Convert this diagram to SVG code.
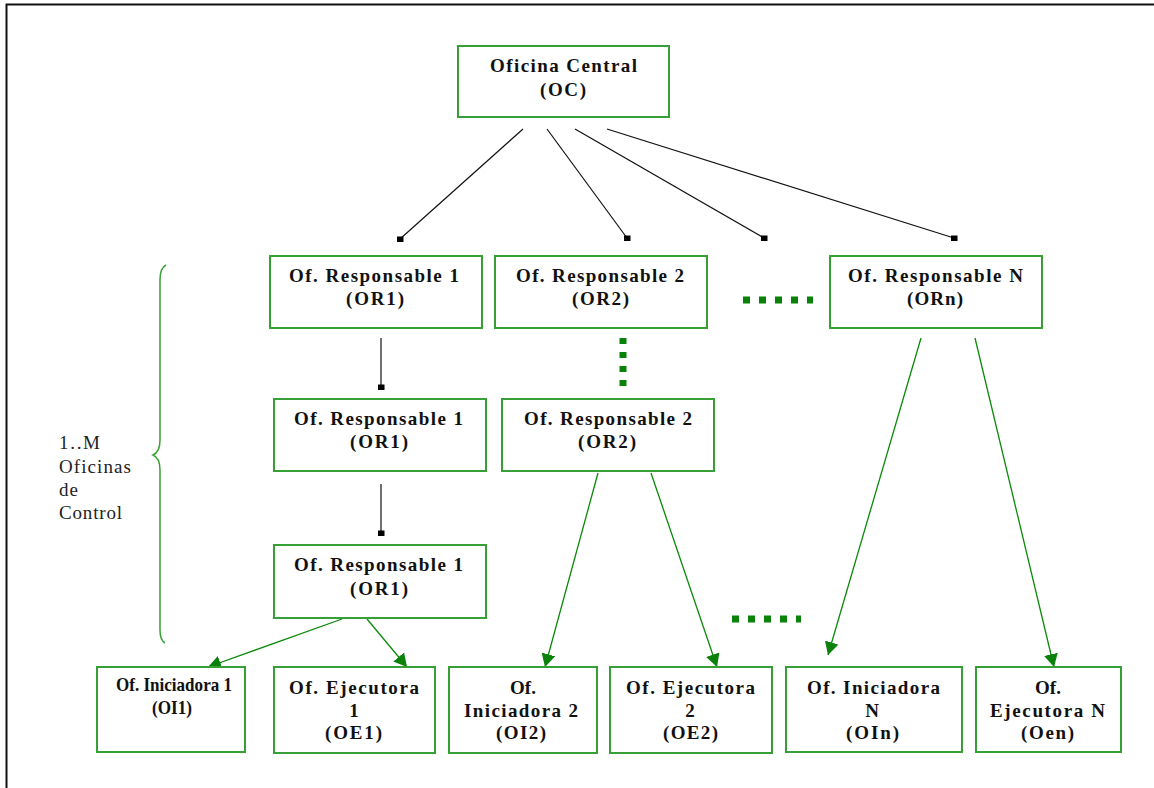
<svg xmlns="http://www.w3.org/2000/svg" width="1154" height="788" viewBox="0 0 1154 788">
<style>
.box{fill:#fff;stroke:#36a036;stroke-width:2}
.t{font-family:"Liberation Serif","Times New Roman",serif;font-size:19px;font-weight:bold;fill:#111}
.c{text-anchor:middle}
.lbl{font-family:"Liberation Serif","Times New Roman",serif;font-size:19px;fill:#222}
.blk{stroke:#111;stroke-width:1.2;fill:none}
.grn{stroke:#0a8a0a;stroke-width:1.3;fill:none}
.dot{stroke:#0a820a;stroke-width:7;stroke-dasharray:7 9;fill:none}
</style>
<defs>
<marker id="sq" markerUnits="userSpaceOnUse" markerWidth="7" markerHeight="6" refX="3.5" refY="3" orient="0">
<rect x="0" y="0.5" width="7" height="5.5" fill="#000"/>
</marker>
<marker id="ar" markerUnits="userSpaceOnUse" markerWidth="14" markerHeight="14" refX="13" refY="7" orient="auto">
<path d="M0,0 L13,7 L0,14 z" fill="#0a820a"/>
</marker>
</defs>
<rect x="0" y="0" width="1154" height="788" fill="#fff"/>
<g id="frame">
<path d="M6.5,788 V4.5 H1154" fill="none" stroke="#111" stroke-width="2"/>
</g>
<g id="connectors">
<line class="blk" x1="523" y1="129" x2="400" y2="239" marker-end="url(#sq)"/>
<line class="blk" x1="547" y1="129" x2="627" y2="238" marker-end="url(#sq)"/>
<line class="blk" x1="575" y1="129" x2="764" y2="238" marker-end="url(#sq)"/>
<line class="blk" x1="607" y1="129" x2="954" y2="238" marker-end="url(#sq)"/>
<line class="blk" x1="381" y1="338" x2="381" y2="387" marker-end="url(#sq)"/>
<line class="blk" x1="381" y1="484" x2="381" y2="533" marker-end="url(#sq)"/>
<line class="grn" x1="342" y1="619" x2="208" y2="667" marker-end="url(#ar)"/>
<line class="grn" x1="367" y1="619" x2="407" y2="667" marker-end="url(#ar)"/>
<line class="grn" x1="598" y1="473" x2="545" y2="667" marker-end="url(#ar)"/>
<line class="grn" x1="651" y1="473" x2="717" y2="667" marker-end="url(#ar)"/>
<line class="grn" x1="921" y1="338" x2="828" y2="655" marker-end="url(#ar)"/>
<line class="grn" x1="975" y1="338" x2="1054" y2="667" marker-end="url(#ar)"/>
<line class="dot" x1="623" y1="338" x2="623" y2="386" style="stroke-dasharray:6 8"/>
<line class="dot" x1="743" y1="300" x2="813" y2="300"/>
<line class="dot" x1="732" y1="619" x2="801" y2="619"/>
</g>
<g id="brace">
<path d="M166,265 Q160,268 160,280 V440 Q160,452 153,455 Q160,458 160,470 V630 Q160,640 165,643" fill="none" stroke="#36a036" stroke-width="1.5"/>
<text class="lbl" x="59" y="449" textLength="41">1..M</text>
<text class="lbl" x="59" y="473" textLength="72">Oficinas</text>
<text class="lbl" x="59" y="496" textLength="19">de</text>
<text class="lbl" x="59" y="519" textLength="63">Control</text>
</g>
<g id="OC">
<rect class="box" x="458" y="46" width="211" height="71"/>
<text class="t" x="490" y="72" textLength="147">Oficina Central</text>
<text class="t" x="540" y="96" textLength="46">(OC)</text>
</g>
<g id="OR1a">
<rect class="box" x="270" y="256" width="212" height="72"/>
<text class="t" x="289" y="282" textLength="170">Of. Responsable 1</text>
<text class="t" x="346" y="305" textLength="58">(OR1)</text>
</g>
<g id="OR2a">
<rect class="box" x="495" y="256" width="212" height="72"/>
<text class="t" x="516" y="282" textLength="168">Of. Responsable 2</text>
<text class="t" x="572" y="305" textLength="57">(OR2)</text>
</g>
<g id="ORn">
<rect class="box" x="830" y="256" width="212" height="72"/>
<text class="t" x="848" y="282" textLength="175">Of. Responsable N</text>
<text class="t" x="907" y="305" textLength="56">(ORn)</text>
</g>
<g id="OR1b">
<rect class="box" x="274" y="399" width="212" height="72"/>
<text class="t" x="294" y="425" textLength="169">Of. Responsable 1</text>
<text class="t" x="350" y="448" textLength="58">(OR1)</text>
</g>
<g id="OR1c">
<rect class="box" x="274" y="545" width="212" height="73"/>
<text class="t" x="294" y="571" textLength="169">Of. Responsable 1</text>
<text class="t" x="350" y="595" textLength="58">(OR1)</text>
</g>
<g id="OR2b">
<rect class="box" x="502" y="399" width="212" height="72"/>
<text class="t" x="524" y="425" textLength="168">Of. Responsable 2</text>
<text class="t" x="578" y="448" textLength="58">(OR2)</text>
</g>
<g id="OI1">
<rect class="box" x="97" y="667" width="148" height="85"/>
<text class="t" x="116" y="691" textLength="116" lengthAdjust="spacingAndGlyphs">Of. Iniciadora 1</text>
<text class="t" x="152" y="714" textLength="40" lengthAdjust="spacingAndGlyphs">(OI1)</text>
</g>
<g id="OE1">
<rect class="box" x="274" y="667" width="161" height="86"/>
<text class="t" x="289" y="694" textLength="130">Of. Ejecutora</text>
<text class="t c" x="354" y="717">1</text>
<text class="t" x="325" y="739" textLength="57">(OE1)</text>
</g>
<g id="OI2">
<rect class="box" x="449" y="667" width="148" height="86"/>
<text class="t c" x="523" y="694">Of.</text>
<text class="t" x="464" y="717" textLength="114">Iniciadora 2</text>
<text class="t" x="496" y="739" textLength="50">(OI2)</text>
</g>
<g id="OE2">
<rect class="box" x="610" y="667" width="162" height="86"/>
<text class="t" x="626" y="694" textLength="129">Of. Ejecutora</text>
<text class="t c" x="690" y="717">2</text>
<text class="t" x="663" y="739" textLength="55">(OE2)</text>
</g>
<g id="OIn">
<rect class="box" x="786" y="667" width="176" height="85"/>
<text class="t" x="807" y="694" textLength="133">Of. Iniciadora</text>
<text class="t c" x="872" y="717">N</text>
<text class="t" x="846" y="739" textLength="53">(OIn)</text>
</g>
<g id="OEn">
<rect class="box" x="976" y="667" width="145" height="85"/>
<text class="t c" x="1048" y="694">Of.</text>
<text class="t" x="990" y="717" textLength="115">Ejecutora N</text>
<text class="t" x="1021" y="739" textLength="53">(Oen)</text>
</g>
</svg>
